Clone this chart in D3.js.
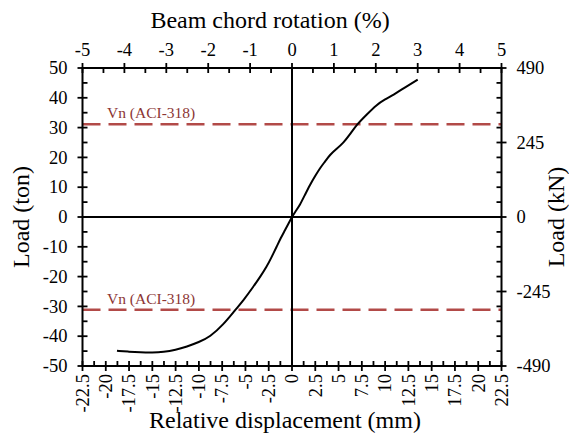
<!DOCTYPE html>
<html><head><meta charset="utf-8">
<script src="https://cdn.jsdelivr.net/npm/d3@7"></script>
<style>body{margin:0;background:#fff}svg{display:block}</style>
</head><body><svg id="c" width="569" height="435"></svg>
<script>
const dispMM = [-18.8,-17.5,-16.3,-15.0,-13.8,-12.5,-11.3,-10.0,-8.8,-7.4,-6.1,-5.2,-4.15,-3.4,-2.72,-2.2,-1.65,-1.2,-0.75,-0.35,0,0.4,0.86,1.4,1.93,2.5,3.0,3.6,4.08,4.8,5.5,6.2,6.95,8.0,9.1,10.0,10.9,12.2,13.5];
const loadTon = [-44.9,-45.2,-45.4,-45.5,-45.3,-44.6,-43.5,-42.0,-40.2,-36.2,-31.2,-27.9,-23.4,-20.0,-16.7,-13.5,-10.0,-7.0,-4.4,-2.0,0,2.0,4.1,7.5,10.8,13.8,16.4,18.8,20.9,22.9,24.8,27.6,31.0,34.3,37.7,39.5,41.0,43.6,46.1];
const vnTon = [31.1, -31.1];
const vnLabel = "Vn (ACI-318)";
const xTicks = d3.range(-22.5, 22.51, 2.5);
const topTicks = d3.range(-5, 5.01, 1);
const leftTicks = d3.range(-50, 50.01, 10);
const rightTicks = [-490, -245, 0, 245, 490];

const FONT = "Liberation Serif";
const svg = d3.select("#c");
const L = 82.5, R = 501.5, T = 68, B = 366;
const x = d3.scaleLinear().domain([-22.5, 22.5]).range([L, R]);
const xTop = d3.scaleLinear().domain([-5, 5]).range([L, R]);
const y = d3.scaleLinear().domain([-50, 50]).range([B, T]);
const yR = d3.scaleLinear().domain([-490, 490]).range([B, T]);
const red = "#b24a48";
const fs = 18.5;
const txt = () => svg.append("text").attr("font-family", FONT).attr("fill", "#000");

vnTon.forEach(v => {
  svg.append("line").attr("x1", L).attr("x2", R).attr("y1", y(v)).attr("y2", y(v))
    .attr("stroke", red).attr("stroke-width", 2.4).attr("stroke-dasharray", "18,8");
  txt().attr("x", 107).attr("y", y(v) - 6).attr("font-size", 15.5)
    .attr("fill", "#8c3634").text(vnLabel);
});

svg.append("line").attr("x1", L).attr("x2", R).attr("y1", y(0)).attr("y2", y(0)).attr("stroke", "#000").attr("stroke-width", 2);
svg.append("line").attr("x1", x(0)).attr("x2", x(0)).attr("y1", T).attr("y2", B).attr("stroke", "#000").attr("stroke-width", 2);

const pts = dispMM.map((d, i) => [d, loadTon[i]]);
svg.append("path").datum(pts).attr("fill", "none").attr("stroke", "#000").attr("stroke-width", 2)
  .attr("d", d3.line().x(d => x(d[0])).y(d => y(d[1])).curve(d3.curveBasis));

const g = svg.append("g").attr("stroke", "#000").attr("stroke-width", 2);
g.append("line").attr("x1", L-1).attr("x2", R+1).attr("y1", T).attr("y2", T);
g.append("line").attr("x1", L-1).attr("x2", R+1).attr("y1", B).attr("y2", B);
g.append("line").attr("x1", L).attr("x2", L).attr("y1", T).attr("y2", B);
g.append("line").attr("x1", R).attr("x2", R).attr("y1", T).attr("y2", B);

const tk = svg.append("g").attr("stroke", "#000").attr("stroke-width", 1.8);
d3.range(-22.5, 22.51, 1.25).forEach((v, i) => {
  const major = i % 2 === 0;
  tk.append("line").attr("x1", x(v)).attr("x2", x(v)).attr("y1", B - 5).attr("y2", major ? B + 5 : B);
});
d3.range(-5, 5.01, 0.5).forEach((v, i) => {
  const major = i % 2 === 0;
  tk.append("line").attr("x1", xTop(v)).attr("x2", xTop(v)).attr("y1", major ? T - 5 : T).attr("y2", T + 5);
});
d3.range(-50, 50.01, 5).forEach((v, i) => {
  const major = i % 2 === 0;
  tk.append("line").attr("y1", y(v)).attr("y2", y(v)).attr("x1", major ? L - 5 : L).attr("x2", L + 5);
});
d3.range(-490, 490.01, 49).forEach((v, i) => {
  const major = i % 5 === 0;
  tk.append("line").attr("y1", yR(v)).attr("y2", yR(v)).attr("x1", R - 5).attr("x2", major ? R + 5 : R);
});

const fmt = v => String(Math.round(v * 10) / 10);
xTicks.forEach(v => {
  txt().attr("transform", `translate(${x(v)},${B + 8}) rotate(-90)`)
    .attr("text-anchor", "end").attr("dy", "0.34em").attr("font-size", fs).text(fmt(v));
});
topTicks.forEach(v => {
  txt().attr("x", xTop(v)).attr("y", T - 12).attr("text-anchor", "middle")
    .attr("font-size", fs).text(fmt(v));
});
leftTicks.forEach(v => {
  txt().attr("x", L - 15).attr("y", y(v)).attr("dy", "0.34em").attr("text-anchor", "end")
    .attr("font-size", fs).text(fmt(v));
});
rightTicks.forEach(v => {
  txt().attr("x", R + 15).attr("y", yR(v)).attr("dy", "0.34em").attr("text-anchor", "start")
    .attr("font-size", fs).text(fmt(v));
});

const tfs = 24;
txt().attr("x", 270).attr("y", 28).attr("text-anchor", "middle").attr("font-size", tfs).text("Beam chord rotation (%)");
txt().attr("x", 285).attr("y", 428).attr("text-anchor", "middle").attr("font-size", tfs).text("Relative displacement (mm)");
txt().attr("transform", `translate(29,${(T + B) / 2}) rotate(-90)`).attr("text-anchor", "middle").attr("font-size", tfs).text("Load (ton)");
txt().attr("transform", `translate(564,${(T + B) / 2}) rotate(-90)`).attr("text-anchor", "middle").attr("font-size", tfs).text("Load (kN)");
</script></body></html>
